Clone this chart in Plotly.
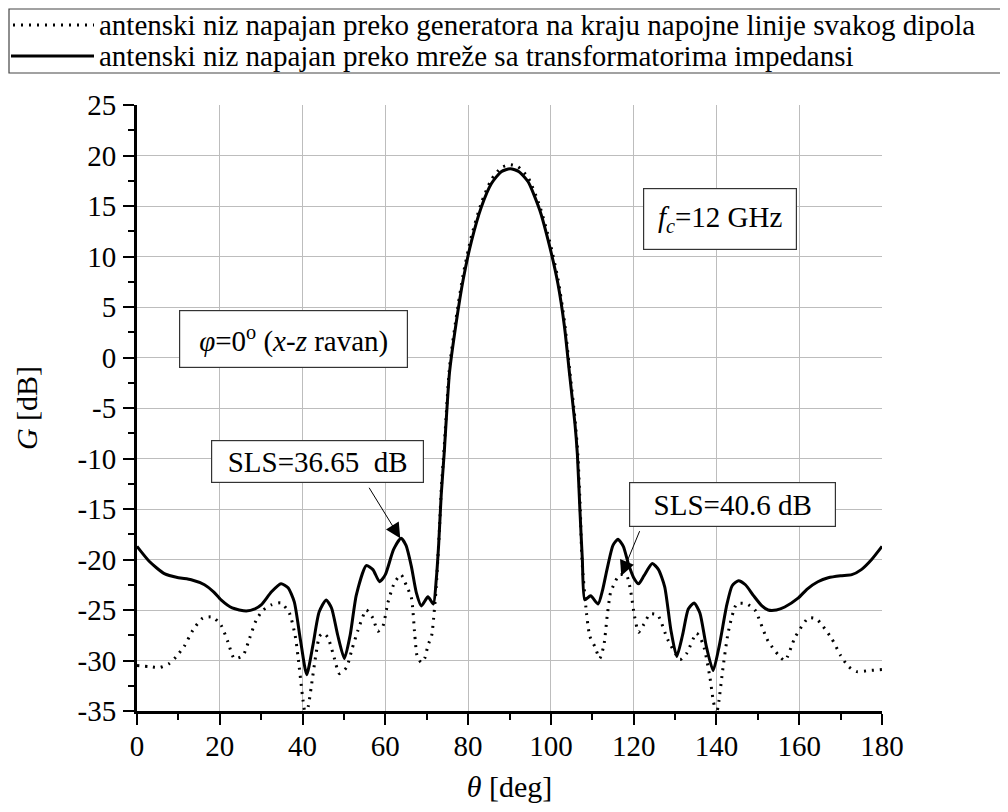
import plotly.graph_objects as go

# ---------------- data ----------------
theta_solid = [0, 3, 6.6, 10, 13.1, 16.3, 18.5, 20.3, 23, 26.4, 28.5, 30, 32.5, 34.8, 36.5, 38,
               39.5, 41, 42.5, 44, 45.7, 47, 48.5, 50.1, 51.5, 53, 55.4, 57, 58.6, 60, 62, 63.8,
               65, 66.3, 67.5, 68.7, 70.3, 71.6, 72.3, 72.9, 73.5, 74.2, 75.5, 77.1, 78.8, 80.8,
               83.2, 85.6, 88, 90.2, 92.3, 94.5, 97.3, 99.7, 101.7, 103.3, 104.5, 105.8, 106.4,
               107, 107.6, 108.2, 109.6, 111.4, 112.5, 113.5, 115, 116.2, 117.5, 118.7, 120,
               121.2, 122.5, 124.5, 126, 127.5, 129, 130.4, 131.8, 133.2, 134.6, 136, 137.5,
               139.2, 140.7, 142.5, 143.8, 145.3, 147, 149, 151, 152.5, 154.5, 156.5, 159.8,
               162, 164.5, 167, 170, 172.7, 175, 177.5, 180]
g_solid = [-18.7, -20.2, -21.4, -21.8, -22.0, -22.5, -23.2, -24.0, -24.8, -25.1, -24.9, -24.5,
           -23.2, -22.4, -22.8, -24.2, -28.0, -31.4, -28.5, -25.2, -24.0, -24.8, -27.5, -29.8,
           -27.5, -23.5, -20.6, -21.0, -22.2, -21.5, -19.0, -17.9, -18.6, -20.7, -23.3, -24.6,
           -23.7, -24.4, -22.0, -18.4, -13.6, -9.6, -1.5, 3.4, 7.7, 11.5, 14.9, 17.2, 18.4,
           18.7, 18.4, 17.4, 14.6, 11.0, 7.3, 3.0, -1.6, -6.5, -9.6, -15.0, -20.0, -24.0, -23.6,
           -24.4, -23.0, -21.1, -18.6, -18.0, -18.7, -20.4, -21.8, -22.4, -21.6, -20.4, -21.0,
           -22.7, -27.0, -29.6, -27.5, -24.9, -24.3, -25.3, -28.5, -31.0, -28.5, -24.5, -22.6,
           -22.1, -22.5, -23.6, -24.6, -25.0, -25.0, -24.7, -23.8, -22.9, -22.2, -21.8, -21.6,
           -21.5, -21.0, -20.0, -18.7]

theta_dotted = [0, 3, 5.4, 7.8, 9.5, 11.4, 13.5, 15.9, 18.3, 20.3, 22, 23.5, 25.6, 27.2, 28.8,
                30.5, 32.4, 34.8, 36.8, 38.2, 38.9, 40.1, 40.7, 41.4, 42.1, 43.2, 44.1, 45.1,
                46.1, 47.5, 48.9, 50.6, 52, 53.4, 55.4, 57, 58.2, 59.4, 60.6, 62.2, 63.8, 65.1,
                66.3, 67.1, 67.7, 68.7, 69.5, 70.3, 71.2, 71.8, 72.3, 72.7, 73.1, 73.5, 74.2,
                75.5, 77.1, 78.8, 80.8, 83.2, 85.6, 88, 90, 92, 94.5, 97.3, 99.7, 101.7, 103.3,
                104.5, 105.8, 106.5, 107.1, 107.5, 108.6, 109.4, 110.6, 111.8, 112.8, 113.6,
                114.4, 115.3, 116.6, 118.3, 119.3, 120.2, 121.2, 122.5, 123.9, 125.8, 128.2,
                131.2, 132.8, 135.2, 136.8, 138.4, 139.2, 140, 140.6, 141.4, 142.9, 144.9,
                147.3, 149.3, 152.5, 156.5, 159, 162.2, 164.2, 167.8, 170, 171.9, 173.9, 176.7,
                180]
g_dotted = [-30.5, -30.6, -30.7, -30.3, -29.6, -28.6, -27.0, -25.8, -25.7, -26.5, -28.2, -29.8,
            -29.5, -27.8, -26.0, -25.0, -24.5, -24.3, -25.3, -27.5, -29.6, -33.9, -35.4, -34.5,
            -32.6, -29.5, -27.6, -27.3, -27.7, -29.5, -31.3, -30.7, -28.8, -27.0, -25.0, -25.8,
            -27.1, -26.6, -24.3, -22.3, -21.5, -22.6, -23.8, -27.4, -29.6, -30.2, -29.8, -28.5,
            -27.5, -25.2, -22.7, -19.8, -16.8, -13.1, -9.0, -1.0, 3.9, 8.2, 12.0, 15.3, 17.6,
            18.8, 19.1, 18.9, 17.8, 15.0, 11.5, 7.8, 3.5, -1.1, -6.0, -9.5, -15.0, -20.0, -25.3,
            -27.6, -28.6, -29.8, -28.5, -25.6, -23.3, -22.4, -21.5, -21.6, -23.2, -25.6, -27.2,
            -26.4, -25.4, -25.5, -27.9, -29.9, -29.3, -27.3, -28.4, -31.6, -33.9, -35.3, -34.0,
            -31.3, -27.1, -24.4, -24.4, -25.0, -28.1, -30.0, -27.7, -25.8, -25.9, -27.8, -29.5,
            -30.6, -31.1, -31.0, -30.9]

x_tick_vals = [0, 20, 40, 60, 80, 100, 120, 140, 160, 180]
x_tick_text = ["0", "20", "40", "60", "80", "100", "120", "140", "160", "180"]
y_tick_vals = [-35, -30, -25, -20, -15, -10, -5, 0, 5, 10, 15, 20, 25]
y_tick_text = ["-35", "-30", "-25", "-20", "-15", "-10", "-5", "0", "5", "10", "15", "20", "25"]

series_names = ["antenski niz napajan preko generatora na kraju napojne linije svakog dipola",
                "antenski niz napajan preko mreže sa transformatorima impedansi"]

# ---------------- layout constants ----------------
# the page body has an 8px margin, so the figure starts at (8, 8) in the window
OFF = 8
W, H = 1008 - OFF, 812 - OFF
PLOT_L, PLOT_R, PLOT_T, PLOT_B = 137, 882, 105, 711          # window pixels of the plot area
ML, MR, MT, MB = PLOT_L - OFF, W - (PLOT_R - OFF), PLOT_T - OFF, H - (PLOT_B - OFF)
PW, PH = PLOT_R - PLOT_L, PLOT_B - PLOT_T
FONT = "Liberation Serif, Times New Roman, Times, serif"
DOT_DASH = "2px,6px"


def px_x(px):
    return (px - PLOT_L) / PW


def px_y(py):
    return (PLOT_B - py) / PH


fig = go.Figure()
fig.add_trace(go.Scatter(x=theta_dotted, y=g_dotted, mode="lines", name=series_names[0],
                         line=dict(color="black", width=3, dash=DOT_DASH, shape="spline", smoothing=0.6),
                         showlegend=False))
fig.add_trace(go.Scatter(x=theta_solid, y=g_solid, mode="lines", name=series_names[1],
                         line=dict(color="black", width=3, shape="spline", smoothing=0.6),
                         showlegend=False))

# ---------------- legend drawn as a framed box above the plot ----------------
ROW1, ROW2 = 25, 56
shapes = [
    dict(type="rect", xref="paper", yref="paper", x0=px_x(9), x1=px_x(1003), y0=px_y(73), y1=px_y(9),
         line=dict(color="#444", width=1.2), fillcolor="white", layer="above"),
    dict(type="line", xref="paper", yref="paper", x0=px_x(13), x1=px_x(94), y0=px_y(ROW1), y1=px_y(ROW1),
         line=dict(color="black", width=3, dash=DOT_DASH)),
    dict(type="line", xref="paper", yref="paper", x0=px_x(11), x1=px_x(94), y0=px_y(ROW2), y1=px_y(ROW2),
         line=dict(color="black", width=3)),
]
legend_font = dict(family=FONT, size=29, color="black")
annotations = [
    dict(xref="paper", yref="paper", x=px_x(97), y=px_y(ROW1), xanchor="left", yanchor="middle",
         text=series_names[0], showarrow=False, font=legend_font),
    dict(xref="paper", yref="paper", x=px_x(97), y=px_y(ROW2), xanchor="left", yanchor="middle",
         text=series_names[1], showarrow=False, font=legend_font),
]

# ---------------- text boxes ----------------
box_font = dict(family=FONT, size=29, color="black")


def box(x, y, text, w, h):
    return dict(x=x, y=y, xref="x", yref="y", text=text, showarrow=False, width=w, height=h,
                bordercolor="#333", borderwidth=1.2, borderpad=0, bgcolor="white", font=box_font,
                align="center", valign="middle")


annotations += [
    box(37.8, 1.8, "<i>φ</i>=0<sup>o</sup> (<i>x</i>-<i>z</i> ravan)", 227, 56),
    box(140.9, 13.7, "<i>f</i><sub><i>c</i></sub>=12 GHz", 152, 60),
    box(43.7, -10.3, "SLS=36.65&nbsp;&nbsp;dB", 211, 41),
    box(143.9, -14.6, "SLS=40.6 dB", 205, 43),
    dict(x=63.6, y=-17.9, xref="x", yref="y", text="", showarrow=True, ax=-32, ay=-52,
         arrowhead=2, arrowsize=3, arrowwidth=1, arrowcolor="black"),
    dict(x=117.0, y=-21.6, xref="x", yref="y", text="", showarrow=True, ax=19, ay=-46,
         arrowhead=2, arrowsize=3, arrowwidth=1, arrowcolor="black"),
]

axis_common = dict(showline=True, linecolor="black", linewidth=3, ticks="outside", ticklen=11,
                   tickwidth=2, tickcolor="black", showgrid=True, gridcolor="#bdbdbd", gridwidth=1,
                   zeroline=False, mirror=False, automargin=False,
                   tickfont=dict(family=FONT, size=29, color="black"))

fig.update_layout(
    width=W, height=H,
    margin=dict(l=ML, r=MR, t=MT, b=MB),
    paper_bgcolor="white", plot_bgcolor="white",
    font=dict(family=FONT, color="black"),
    showlegend=False,
    shapes=shapes,
    annotations=annotations,
    xaxis=dict(range=[0, 180], tickvals=x_tick_vals, ticktext=x_tick_text,
               minor=dict(ticks="outside", ticklen=6, tickwidth=2, tickcolor="black", dtick=10,
                          tick0=0, showgrid=False),
               ticklabelstandoff=-4,
               title=dict(text="<i>θ</i> [deg]", font=dict(family=FONT, size=30, color="black"),
                          standoff=16),
               **axis_common),
    yaxis=dict(range=[-35, 25], tickvals=y_tick_vals, ticktext=y_tick_text,
               minor=dict(ticks="outside", ticklen=6, tickwidth=2, tickcolor="black", dtick=2.5,
                          tick0=0, showgrid=False),
               ticklabelstandoff=1,
               title=dict(text="<i>G</i> [dB]", font=dict(family=FONT, size=30, color="black"),
                          standoff=32),
               **axis_common),
)

fig.write_html("out.html")
